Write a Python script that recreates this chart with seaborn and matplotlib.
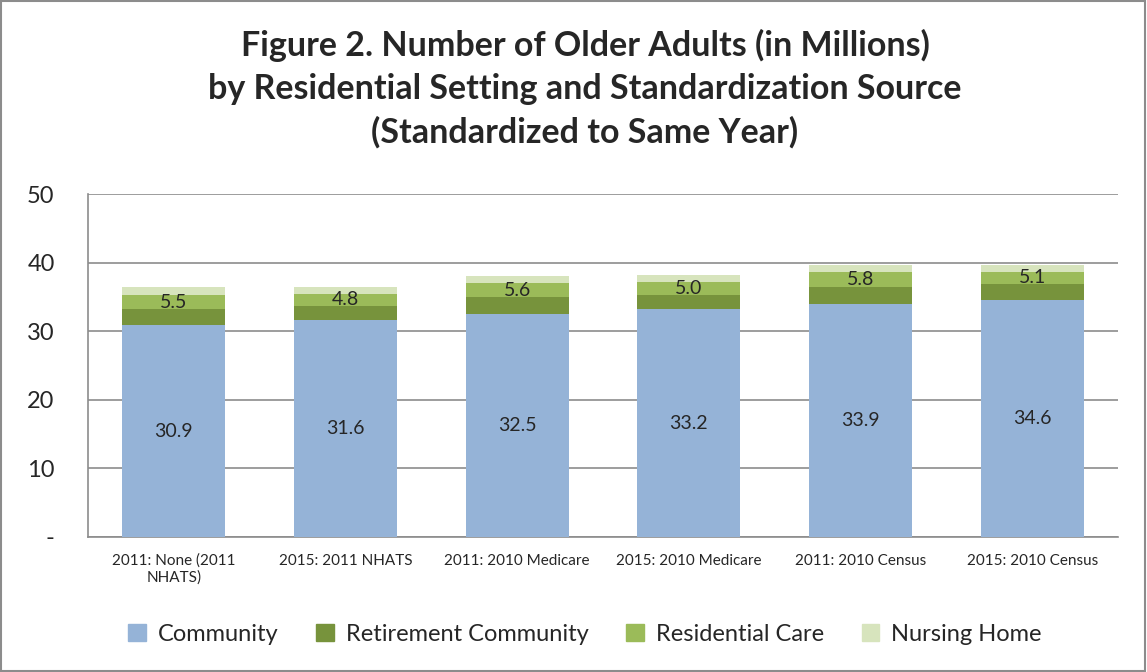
import numpy as np
import pandas as pd
import matplotlib
matplotlib.use('Agg')
import matplotlib.pyplot as plt
import matplotlib.patches as mpatches
import seaborn as sns

# данные (млн человек)
categories = ['2011: None (2011\nNHATS)', '2015: 2011 NHATS', '2011: 2010 Medicare',
              '2015: 2010 Medicare', '2011: 2010 Census', '2015: 2010 Census']
community = [30.9, 31.6, 32.5, 33.2, 33.9, 34.6]
retirement = [2.3, 2.1, 2.5, 2.1, 2.6, 2.3]
residential = [2.1, 1.7, 2.0, 1.9, 2.1, 1.8]
nursing = [1.1, 1.0, 1.1, 1.0, 1.1, 1.0]
other_labels = ['5.5', '4.8', '5.6', '5.0', '5.8', '5.1']

series = ['Community', 'Retirement Community', 'Residential Care', 'Nursing Home']
colors = ['#95B3D7', '#77933C', '#9BBB59', '#D7E4BD']

df = pd.DataFrame({'cat': categories, 'Community': community,
                   'Retirement Community': retirement,
                   'Residential Care': residential, 'Nursing Home': nursing})

# накопленные суммы для стэка
cum = df[series].cumsum(axis=1)

sns.set_style('white')
plt.rcParams['font.family'] = ['Lato', 'DejaVu Sans']

fig = plt.figure(figsize=(11.47, 6.72), dpi=100)
ax = fig.add_axes([0.0767, 0.2009, 0.898, 0.5104])

# рисуем от верхнего слоя к нижнему
for s, c in reversed(list(zip(series, colors))):
    sns.barplot(x=df['cat'], y=cum[s], color=c, width=0.6, saturation=1,
                edgecolor='none', ax=ax, zorder=3)

# подписи
for i in range(len(categories)):
    ax.text(i, community[i] / 2, f'{community[i]:.1f}', ha='center', va='center',
            fontsize=14, zorder=5)
    mid = community[i] + retirement[i] + residential[i] / 2
    ax.text(i, mid, other_labels[i], ha='center', va='center', fontsize=14, zorder=5)

ax.set_ylim(0, 50)
ax.set_xlim(-0.5, len(categories) - 0.5)
ax.set_yticks([0, 10, 20, 30, 40, 50])
ax.set_yticklabels(['-', '10', '20', '30', '40', '50'], fontsize=17)
ax.yaxis.grid(True, color='#8c8c8c', linewidth=1.2, zorder=0)
ax.set_axisbelow(True)

ax.set_xticks(np.arange(len(categories)))
ax.set_xticklabels(categories, fontsize=11)
ax.set_xticks(np.arange(len(categories) + 1) - 0.5, minor=True)
ax.tick_params(axis='x', which='major', length=0, pad=12)
ax.tick_params(axis='x', which='minor', length=6, color='#8c8c8c', width=1.2, direction='out')
ax.tick_params(axis='y', length=8, color='#8c8c8c', width=1.2, direction='out', pad=16)
ax.set_xlabel('')
ax.set_ylabel('')

for side in ['top', 'right']:
    ax.spines[side].set_visible(False)
for side in ['left', 'bottom']:
    ax.spines[side].set_color('#8c8c8c')
    ax.spines[side].set_linewidth(1.2)

fig.text(0.51, 0.957, 'Figure 2. Number of Older Adults (in Millions)\n'
         'by Residential Setting and Standardization Source\n'
         '(Standardized to Same Year)', ha='center', va='top', fontsize=24.5,
         fontweight='bold', linespacing=1.42)

handles = [mpatches.Patch(color=c, label=s) for s, c in zip(series, colors)]
fig.legend(handles=handles, loc='center', bbox_to_anchor=(0.51, 0.056), ncol=4,
           frameon=False, fontsize=17, handlelength=0.75, handleheight=0.75,
           handletextpad=0.5, columnspacing=1.6)

# рамка вокруг рисунка
fig.patches.append(mpatches.Rectangle((0.001, 0.002), 0.997, 0.996, transform=fig.transFigure,
                                      fill=False, edgecolor='#8c8c8c', linewidth=1.5))

fig.savefig('out.png', dpi=100)
